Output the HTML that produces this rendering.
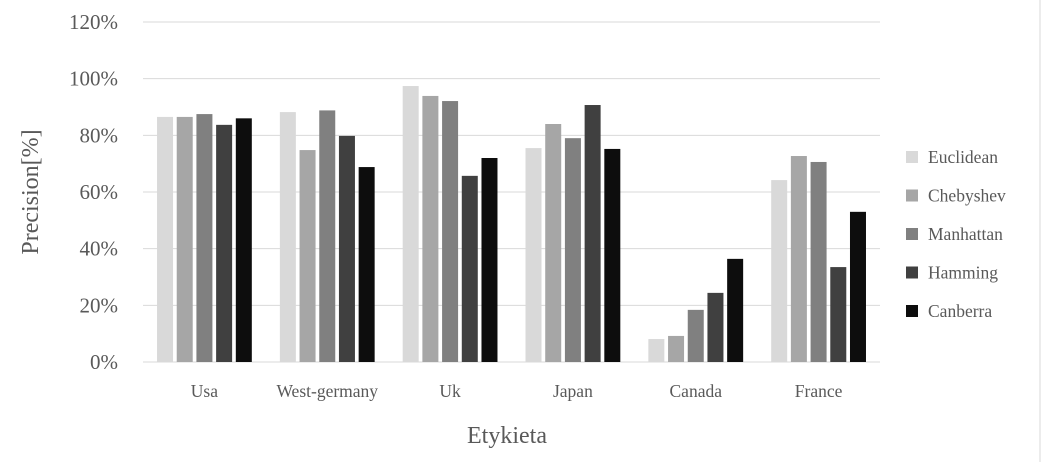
<!DOCTYPE html>
<html><head><meta charset="utf-8"><style>
body{margin:0;background:#fff;}
svg{display:block;font-family:"Liberation Serif",serif;}
</style></head><body>
<svg id="chart" width="1041" height="462">
<line x1="1040" y1="0" x2="1040" y2="462" stroke="#d9d9d9"/>
<g id="grid"></g><g id="bars"></g><g id="xlabels"></g><g id="legend"></g>
<text x="38" y="192" font-size="24" fill="#595959" text-anchor="middle" transform="rotate(-90 38 192)">Precision[%]</text>
<text x="507" y="443" font-size="24" fill="#595959" text-anchor="middle">Etykieta</text>
</svg>
<script>
const categories=["Usa","West-germany","Uk","Japan","Canada","France"];
const seriesNames=["Euclidean","Chebyshev","Manhattan","Hamming","Canberra"];
const euclidean=[86.5,88.2,97.4,75.5,8.1,64.2];
const chebyshev=[86.5,74.8,93.9,84,9.2,72.7];
const manhattan=[87.5,88.8,92.1,79,18.4,70.6];
const hamming=[83.7,79.8,65.7,90.7,24.4,33.5];
const canberra=[86,68.8,72,75.2,36.4,53];
const yTicks=[0,20,40,60,80,100,120];
const series=[euclidean,chebyshev,manhattan,hamming,canberra];
const colors=["#d9d9d9","#a6a6a6","#808080","#404040","#0d0d0d"];
const NS="http://www.w3.org/2000/svg";
const x0=143,x1=880,y0=362,yTop=22;
const yS=v=>y0-(v/120)*(y0-yTop);
const gw=(x1-x0)/categories.length;
function mk(t,a,p){const e=document.createElementNS(NS,t);for(const k in a)e.setAttribute(k,a[k]);p.appendChild(e);return e;}
const grid=document.getElementById('grid');
yTicks.forEach(v=>{
 const l=mk('line',{x1:x0,x2:x1,y1:yS(v),y2:yS(v),stroke:'#d9d9d9'},grid);
 
 
 const t=mk('text',{x:118,y:yS(v)+7,'font-size':21,fill:'#595959','text-anchor':'end'},grid);
 t.textContent=v+'%';
 
 
});
const bars=document.getElementById('bars');
const bw=16,gap=3.7;
categories.forEach((c,i)=>{
 const cx=x0+gw*(i+0.5);
 const start=cx-(5*bw+4*gap)/2;
 series.forEach((s,j)=>{
  const r=mk('rect',{x:start+j*(bw+gap),y:yS(s[i]),width:bw,height:y0-yS(s[i]),fill:colors[j]},bars);
  
  
 });
 const t=mk('text',{x:cx,y:397,'font-size':17.5,fill:'#595959','text-anchor':'middle'},document.getElementById('xlabels'));
 t.textContent=c;
 
 
});
const lg=document.getElementById('legend');
seriesNames.forEach((n,j)=>{
 const y=157+j*38.5;
 const g=mk('g',{},lg);
 
 
 mk('rect',{x:906,y:y-6,width:12,height:12,fill:colors[j]},g);
 const t=mk('text',{x:928,y:y+6,'font-size':17.5,fill:'#595959'},g);
 t.textContent=n;
});
</script>
</body></html>
